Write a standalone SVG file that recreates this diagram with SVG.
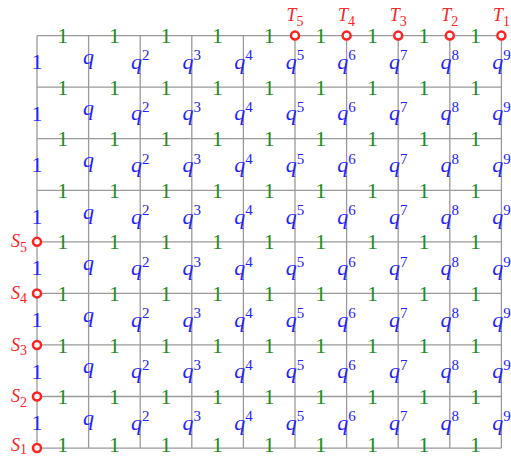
<svg xmlns="http://www.w3.org/2000/svg" width="511" height="457" viewBox="0 0 511 457">
<style>
.grid line{stroke:#9a9a9a;stroke-width:1.3}
text{font-family:"Liberation Serif","Times New Roman",serif}
.g{fill:#1e8c1e;font-size:22px;text-anchor:middle}
.b{fill:#2323ff;font-size:22px;text-anchor:middle}
.q{fill:#2323ff;font-size:22px;font-style:italic;text-anchor:middle}
.s{font-size:15px;font-style:normal}
.term circle{fill:#fff;stroke:#f22;stroke-width:2.5}
.tl{fill:#f22;font-size:18px;font-style:italic}
.sub{font-size:14px;font-style:normal}
</style>
<rect width="511" height="457" fill="#fff"/>
<g id="connectors" class="grid">
<line x1="37" y1="35.6" x2="501.4" y2="35.6"/>
<line x1="37" y1="87.16" x2="501.4" y2="87.16"/>
<line x1="37" y1="138.72" x2="501.4" y2="138.72"/>
<line x1="37" y1="190.28" x2="501.4" y2="190.28"/>
<line x1="37" y1="241.84" x2="501.4" y2="241.84"/>
<line x1="37" y1="293.4" x2="501.4" y2="293.4"/>
<line x1="37" y1="344.96" x2="501.4" y2="344.96"/>
<line x1="37" y1="396.52" x2="501.4" y2="396.52"/>
<line x1="37" y1="448.08" x2="501.4" y2="448.08"/>
<line x1="37" y1="35.6" x2="37" y2="448.08"/>
<line x1="88.6" y1="35.6" x2="88.6" y2="448.08"/>
<line x1="140.2" y1="35.6" x2="140.2" y2="448.08"/>
<line x1="191.8" y1="35.6" x2="191.8" y2="448.08"/>
<line x1="243.4" y1="35.6" x2="243.4" y2="448.08"/>
<line x1="295" y1="35.6" x2="295" y2="448.08"/>
<line x1="346.6" y1="35.6" x2="346.6" y2="448.08"/>
<line x1="398.2" y1="35.6" x2="398.2" y2="448.08"/>
<line x1="449.8" y1="35.6" x2="449.8" y2="448.08"/>
<line x1="501.4" y1="35.6" x2="501.4" y2="448.08"/>
</g>
<g id="horizontal-labels">
<text class="g" x="62.8" y="43.2">1</text><text class="g" x="114.4" y="43.2">1</text><text class="g" x="166" y="43.2">1</text><text class="g" x="217.6" y="43.2">1</text><text class="g" x="269.2" y="43.2">1</text><text class="g" x="320.8" y="43.2">1</text><text class="g" x="372.4" y="43.2">1</text><text class="g" x="424" y="43.2">1</text><text class="g" x="475.6" y="43.2">1</text>
<text class="g" x="62.8" y="94.76">1</text><text class="g" x="114.4" y="94.76">1</text><text class="g" x="166" y="94.76">1</text><text class="g" x="217.6" y="94.76">1</text><text class="g" x="269.2" y="94.76">1</text><text class="g" x="320.8" y="94.76">1</text><text class="g" x="372.4" y="94.76">1</text><text class="g" x="424" y="94.76">1</text><text class="g" x="475.6" y="94.76">1</text>
<text class="g" x="62.8" y="146.32">1</text><text class="g" x="114.4" y="146.32">1</text><text class="g" x="166" y="146.32">1</text><text class="g" x="217.6" y="146.32">1</text><text class="g" x="269.2" y="146.32">1</text><text class="g" x="320.8" y="146.32">1</text><text class="g" x="372.4" y="146.32">1</text><text class="g" x="424" y="146.32">1</text><text class="g" x="475.6" y="146.32">1</text>
<text class="g" x="62.8" y="197.88">1</text><text class="g" x="114.4" y="197.88">1</text><text class="g" x="166" y="197.88">1</text><text class="g" x="217.6" y="197.88">1</text><text class="g" x="269.2" y="197.88">1</text><text class="g" x="320.8" y="197.88">1</text><text class="g" x="372.4" y="197.88">1</text><text class="g" x="424" y="197.88">1</text><text class="g" x="475.6" y="197.88">1</text>
<text class="g" x="62.8" y="249.44">1</text><text class="g" x="114.4" y="249.44">1</text><text class="g" x="166" y="249.44">1</text><text class="g" x="217.6" y="249.44">1</text><text class="g" x="269.2" y="249.44">1</text><text class="g" x="320.8" y="249.44">1</text><text class="g" x="372.4" y="249.44">1</text><text class="g" x="424" y="249.44">1</text><text class="g" x="475.6" y="249.44">1</text>
<text class="g" x="62.8" y="301">1</text><text class="g" x="114.4" y="301">1</text><text class="g" x="166" y="301">1</text><text class="g" x="217.6" y="301">1</text><text class="g" x="269.2" y="301">1</text><text class="g" x="320.8" y="301">1</text><text class="g" x="372.4" y="301">1</text><text class="g" x="424" y="301">1</text><text class="g" x="475.6" y="301">1</text>
<text class="g" x="62.8" y="352.56">1</text><text class="g" x="114.4" y="352.56">1</text><text class="g" x="166" y="352.56">1</text><text class="g" x="217.6" y="352.56">1</text><text class="g" x="269.2" y="352.56">1</text><text class="g" x="320.8" y="352.56">1</text><text class="g" x="372.4" y="352.56">1</text><text class="g" x="424" y="352.56">1</text><text class="g" x="475.6" y="352.56">1</text>
<text class="g" x="62.8" y="404.12">1</text><text class="g" x="114.4" y="404.12">1</text><text class="g" x="166" y="404.12">1</text><text class="g" x="217.6" y="404.12">1</text><text class="g" x="269.2" y="404.12">1</text><text class="g" x="320.8" y="404.12">1</text><text class="g" x="372.4" y="404.12">1</text><text class="g" x="424" y="404.12">1</text><text class="g" x="475.6" y="404.12">1</text>
<text class="g" x="62.8" y="452">1</text><text class="g" x="114.4" y="452">1</text><text class="g" x="166" y="452">1</text><text class="g" x="217.6" y="452">1</text><text class="g" x="269.2" y="452">1</text><text class="g" x="320.8" y="452">1</text><text class="g" x="372.4" y="452">1</text><text class="g" x="424" y="452">1</text><text class="g" x="475.6" y="452">1</text>
</g>
<g id="vertical-labels">
<text class="b" x="37" y="69.18">1</text><text class="q" x="88.6" y="63.88">q</text><text class="q" x="140.2" y="68.88">q<tspan class="s" dy="-8.5">2</tspan></text><text class="q" x="191.8" y="68.88">q<tspan class="s" dy="-8.5">3</tspan></text><text class="q" x="243.4" y="68.88">q<tspan class="s" dy="-8.5">4</tspan></text><text class="q" x="295" y="68.88">q<tspan class="s" dy="-8.5">5</tspan></text><text class="q" x="346.6" y="68.88">q<tspan class="s" dy="-8.5">6</tspan></text><text class="q" x="398.2" y="68.88">q<tspan class="s" dy="-8.5">7</tspan></text><text class="q" x="449.8" y="68.88">q<tspan class="s" dy="-8.5">8</tspan></text><text class="q" x="501.4" y="68.88">q<tspan class="s" dy="-8.5">9</tspan></text>
<text class="b" x="37" y="120.74">1</text><text class="q" x="88.6" y="115.44">q</text><text class="q" x="140.2" y="120.44">q<tspan class="s" dy="-8.5">2</tspan></text><text class="q" x="191.8" y="120.44">q<tspan class="s" dy="-8.5">3</tspan></text><text class="q" x="243.4" y="120.44">q<tspan class="s" dy="-8.5">4</tspan></text><text class="q" x="295" y="120.44">q<tspan class="s" dy="-8.5">5</tspan></text><text class="q" x="346.6" y="120.44">q<tspan class="s" dy="-8.5">6</tspan></text><text class="q" x="398.2" y="120.44">q<tspan class="s" dy="-8.5">7</tspan></text><text class="q" x="449.8" y="120.44">q<tspan class="s" dy="-8.5">8</tspan></text><text class="q" x="501.4" y="120.44">q<tspan class="s" dy="-8.5">9</tspan></text>
<text class="b" x="37" y="172.3">1</text><text class="q" x="88.6" y="167">q</text><text class="q" x="140.2" y="172">q<tspan class="s" dy="-8.5">2</tspan></text><text class="q" x="191.8" y="172">q<tspan class="s" dy="-8.5">3</tspan></text><text class="q" x="243.4" y="172">q<tspan class="s" dy="-8.5">4</tspan></text><text class="q" x="295" y="172">q<tspan class="s" dy="-8.5">5</tspan></text><text class="q" x="346.6" y="172">q<tspan class="s" dy="-8.5">6</tspan></text><text class="q" x="398.2" y="172">q<tspan class="s" dy="-8.5">7</tspan></text><text class="q" x="449.8" y="172">q<tspan class="s" dy="-8.5">8</tspan></text><text class="q" x="501.4" y="172">q<tspan class="s" dy="-8.5">9</tspan></text>
<text class="b" x="37" y="223.86">1</text><text class="q" x="88.6" y="218.56">q</text><text class="q" x="140.2" y="223.56">q<tspan class="s" dy="-8.5">2</tspan></text><text class="q" x="191.8" y="223.56">q<tspan class="s" dy="-8.5">3</tspan></text><text class="q" x="243.4" y="223.56">q<tspan class="s" dy="-8.5">4</tspan></text><text class="q" x="295" y="223.56">q<tspan class="s" dy="-8.5">5</tspan></text><text class="q" x="346.6" y="223.56">q<tspan class="s" dy="-8.5">6</tspan></text><text class="q" x="398.2" y="223.56">q<tspan class="s" dy="-8.5">7</tspan></text><text class="q" x="449.8" y="223.56">q<tspan class="s" dy="-8.5">8</tspan></text><text class="q" x="501.4" y="223.56">q<tspan class="s" dy="-8.5">9</tspan></text>
<text class="b" x="37" y="275.42">1</text><text class="q" x="88.6" y="270.12">q</text><text class="q" x="140.2" y="275.12">q<tspan class="s" dy="-8.5">2</tspan></text><text class="q" x="191.8" y="275.12">q<tspan class="s" dy="-8.5">3</tspan></text><text class="q" x="243.4" y="275.12">q<tspan class="s" dy="-8.5">4</tspan></text><text class="q" x="295" y="275.12">q<tspan class="s" dy="-8.5">5</tspan></text><text class="q" x="346.6" y="275.12">q<tspan class="s" dy="-8.5">6</tspan></text><text class="q" x="398.2" y="275.12">q<tspan class="s" dy="-8.5">7</tspan></text><text class="q" x="449.8" y="275.12">q<tspan class="s" dy="-8.5">8</tspan></text><text class="q" x="501.4" y="275.12">q<tspan class="s" dy="-8.5">9</tspan></text>
<text class="b" x="37" y="326.98">1</text><text class="q" x="88.6" y="321.68">q</text><text class="q" x="140.2" y="326.68">q<tspan class="s" dy="-8.5">2</tspan></text><text class="q" x="191.8" y="326.68">q<tspan class="s" dy="-8.5">3</tspan></text><text class="q" x="243.4" y="326.68">q<tspan class="s" dy="-8.5">4</tspan></text><text class="q" x="295" y="326.68">q<tspan class="s" dy="-8.5">5</tspan></text><text class="q" x="346.6" y="326.68">q<tspan class="s" dy="-8.5">6</tspan></text><text class="q" x="398.2" y="326.68">q<tspan class="s" dy="-8.5">7</tspan></text><text class="q" x="449.8" y="326.68">q<tspan class="s" dy="-8.5">8</tspan></text><text class="q" x="501.4" y="326.68">q<tspan class="s" dy="-8.5">9</tspan></text>
<text class="b" x="37" y="378.54">1</text><text class="q" x="88.6" y="373.24">q</text><text class="q" x="140.2" y="378.24">q<tspan class="s" dy="-8.5">2</tspan></text><text class="q" x="191.8" y="378.24">q<tspan class="s" dy="-8.5">3</tspan></text><text class="q" x="243.4" y="378.24">q<tspan class="s" dy="-8.5">4</tspan></text><text class="q" x="295" y="378.24">q<tspan class="s" dy="-8.5">5</tspan></text><text class="q" x="346.6" y="378.24">q<tspan class="s" dy="-8.5">6</tspan></text><text class="q" x="398.2" y="378.24">q<tspan class="s" dy="-8.5">7</tspan></text><text class="q" x="449.8" y="378.24">q<tspan class="s" dy="-8.5">8</tspan></text><text class="q" x="501.4" y="378.24">q<tspan class="s" dy="-8.5">9</tspan></text>
<text class="b" x="37" y="430.1">1</text><text class="q" x="88.6" y="424.8">q</text><text class="q" x="140.2" y="429.8">q<tspan class="s" dy="-8.5">2</tspan></text><text class="q" x="191.8" y="429.8">q<tspan class="s" dy="-8.5">3</tspan></text><text class="q" x="243.4" y="429.8">q<tspan class="s" dy="-8.5">4</tspan></text><text class="q" x="295" y="429.8">q<tspan class="s" dy="-8.5">5</tspan></text><text class="q" x="346.6" y="429.8">q<tspan class="s" dy="-8.5">6</tspan></text><text class="q" x="398.2" y="429.8">q<tspan class="s" dy="-8.5">7</tspan></text><text class="q" x="449.8" y="429.8">q<tspan class="s" dy="-8.5">8</tspan></text><text class="q" x="501.4" y="429.8">q<tspan class="s" dy="-8.5">9</tspan></text>
</g>
<g id="S1" class="term"><circle cx="37" cy="448.08" r="4"/><text class="tl" x="27" y="450.5" text-anchor="end">S<tspan class="sub" dy="3">1</tspan></text></g>
<g id="S2" class="term"><circle cx="37" cy="396.52" r="4"/><text class="tl" x="27" y="402" text-anchor="end">S<tspan class="sub" dy="4.5">2</tspan></text></g>
<g id="S3" class="term"><circle cx="37" cy="344.96" r="4"/><text class="tl" x="27" y="350.5" text-anchor="end">S<tspan class="sub" dy="4.5">3</tspan></text></g>
<g id="S4" class="term"><circle cx="37" cy="293.4" r="4"/><text class="tl" x="27" y="298.9" text-anchor="end">S<tspan class="sub" dy="4.5">4</tspan></text></g>
<g id="S5" class="term"><circle cx="37" cy="241.84" r="4"/><text class="tl" x="27" y="247.3" text-anchor="end">S<tspan class="sub" dy="4.5">5</tspan></text></g>
<g id="T5" class="term"><circle cx="295" cy="35.6" r="4"/><text class="tl" x="295" y="21" text-anchor="middle">T<tspan class="sub" dy="5">5</tspan></text></g>
<g id="T4" class="term"><circle cx="346.6" cy="35.6" r="4"/><text class="tl" x="346.6" y="21" text-anchor="middle">T<tspan class="sub" dy="5">4</tspan></text></g>
<g id="T3" class="term"><circle cx="398.2" cy="35.6" r="4"/><text class="tl" x="398.2" y="21" text-anchor="middle">T<tspan class="sub" dy="5">3</tspan></text></g>
<g id="T2" class="term"><circle cx="449.8" cy="35.6" r="4"/><text class="tl" x="449.8" y="21" text-anchor="middle">T<tspan class="sub" dy="5">2</tspan></text></g>
<g id="T1" class="term"><circle cx="501.4" cy="35.6" r="4"/><text class="tl" x="501.4" y="21" text-anchor="middle">T<tspan class="sub" dy="5">1</tspan></text></g>
</svg>
